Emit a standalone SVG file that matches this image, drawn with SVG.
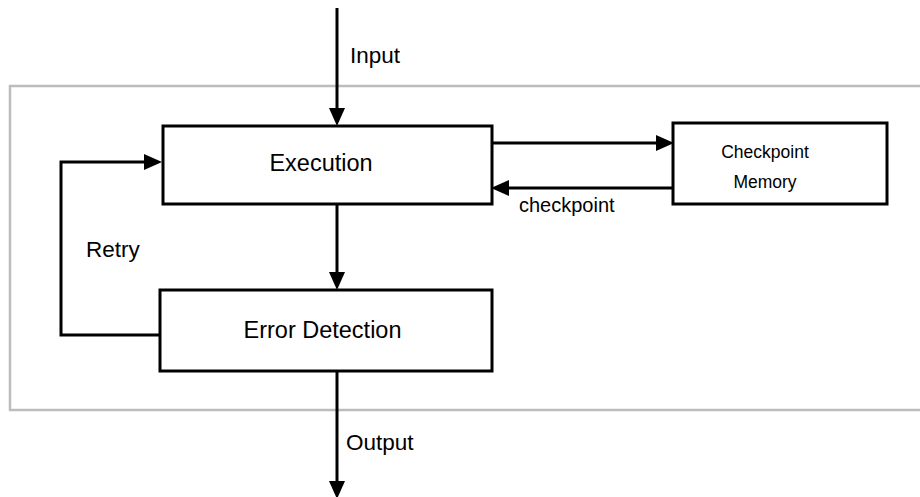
<svg xmlns="http://www.w3.org/2000/svg" width="920" height="497" viewBox="0 0 920 497">
<style>
.box{fill:#fff;stroke:#000;stroke-width:3}
.edge{fill:none;stroke:#000;stroke-width:3}
text{font-family:"Liberation Sans",Arial,sans-serif;fill:#000}
.nl{font-size:23.5px;text-anchor:middle}
.el{font-size:22.5px}
.sl{font-size:17.5px;text-anchor:middle}
.cl{font-size:20px}
</style>
<defs>
<marker id="ah" viewBox="0 0 18 16" refX="0" refY="8" markerWidth="18" markerHeight="16" markerUnits="userSpaceOnUse" orient="auto">
<path d="M0,0 L18,8 L0,16 Z" fill="#000"/>
</marker>
</defs>
<rect width="920" height="497" fill="#fff"/>
<rect id="container" x="10" y="86" width="916" height="324" fill="none" stroke="#bcbcbc" stroke-width="2.5"/>
<g id="execution">
<rect class="box" x="163" y="126" width="329" height="78"/>
<text class="nl" x="321" y="171">Execution</text>
</g>
<g id="error-detection">
<rect class="box" x="160" y="290" width="332" height="81"/>
<text class="nl" x="322.5" y="338">Error Detection</text>
</g>
<g id="checkpoint-memory">
<rect class="box" x="673" y="123" width="214" height="81"/>
<text class="sl" x="765" y="158">Checkpoint</text>
<text class="sl" x="765" y="188">Memory</text>
</g>
<g id="connectors">
<path class="edge" d="M337,8 V108" marker-end="url(#ah)"/>
<text class="el" x="350" y="63">Input</text>
<path class="edge" d="M337,204 V272" marker-end="url(#ah)"/>
<path class="edge" d="M337,371 V481" marker-end="url(#ah)"/>
<text class="el" x="346" y="450">Output</text>
<path class="edge" d="M160,335 H61 V162 H144" marker-end="url(#ah)"/>
<text class="el" x="86" y="257">Retry</text>
<path class="edge" d="M492,143 H656" marker-end="url(#ah)"/>
<path class="edge" d="M673,188 H509" marker-end="url(#ah)"/>
<text class="cl" x="519" y="212">checkpoint</text>
</g>
</svg>
